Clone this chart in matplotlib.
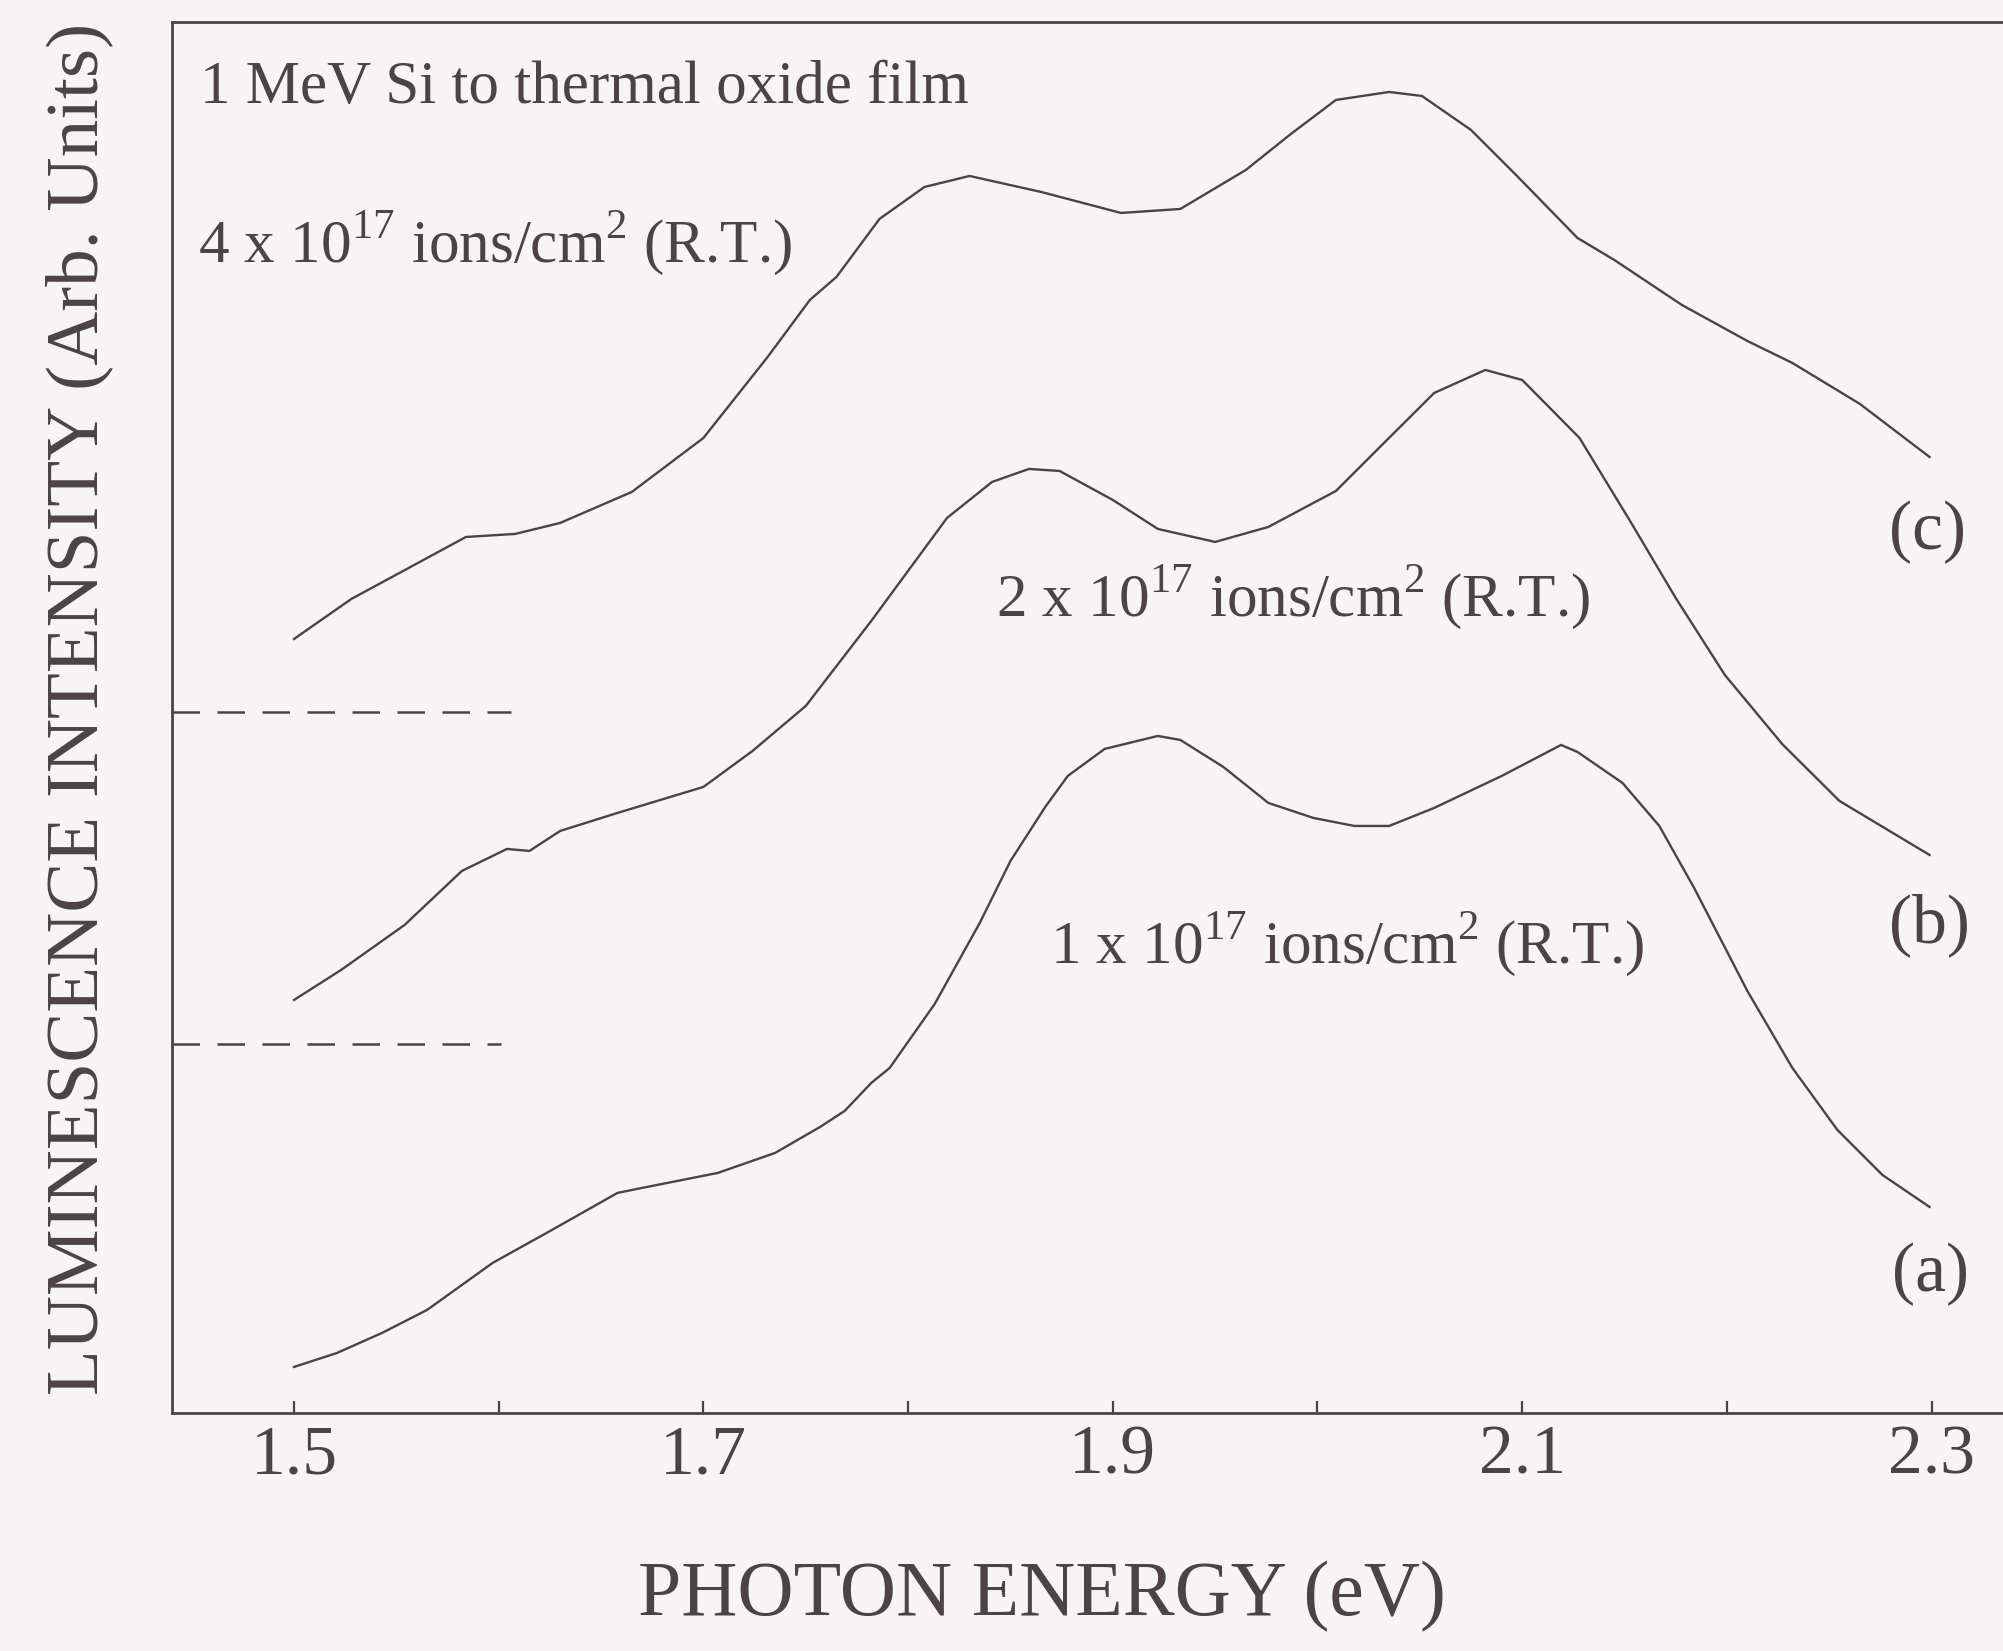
import numpy as np
import matplotlib.pyplot as plt

# photoluminescence spectra, 1 MeV Si implanted thermal oxide (arb. units)
energy_a = [1.500, 1.521, 1.543, 1.565, 1.597, 1.626, 1.658, 1.670, 1.707, 1.735,
            1.757, 1.769, 1.782, 1.791, 1.813, 1.835, 1.850, 1.867, 1.878, 1.896,
            1.922, 1.933, 1.954, 1.976, 1.998, 2.018, 2.035, 2.057, 2.090, 2.119,
            2.127, 2.149, 2.167, 2.184, 2.210, 2.232, 2.254, 2.276, 2.299]
lum_a = [0.46, 0.60, 0.80, 1.03, 1.50, 1.83, 2.20, 2.25, 2.40, 2.60,
         2.86, 3.02, 3.30, 3.45, 4.09, 4.90, 5.52, 6.06, 6.37, 6.64,
         6.77, 6.73, 6.46, 6.10, 5.95, 5.87, 5.87, 6.05, 6.37, 6.68,
         6.61, 6.30, 5.87, 5.25, 4.22, 3.45, 2.83, 2.38, 2.06]

energy_b = [1.500, 1.523, 1.554, 1.582, 1.604, 1.615, 1.630, 1.658, 1.700, 1.724,
            1.750, 1.782, 1.819, 1.841, 1.859, 1.874, 1.900, 1.922, 1.950, 1.976,
            2.009, 2.031, 2.057, 2.082, 2.100, 2.128, 2.153, 2.175, 2.199, 2.227,
            2.255, 2.299]
lum_b = [4.13, 4.43, 4.88, 5.42, 5.64, 5.62, 5.82, 6.00, 6.26, 6.62,
         7.07, 7.92, 8.95, 9.31, 9.44, 9.42, 9.13, 8.84, 8.71, 8.86,
         9.22, 9.67, 10.20, 10.43, 10.33, 9.75, 8.91, 8.15, 7.38, 6.69,
         6.12, 5.58]

energy_c = [1.500, 1.528, 1.556, 1.584, 1.608, 1.630, 1.665, 1.700, 1.731, 1.752,
            1.765, 1.786, 1.808, 1.830, 1.865, 1.904, 1.933, 1.965, 1.987, 2.009,
            2.035, 2.051, 2.075, 2.097, 2.127, 2.145, 2.178, 2.210, 2.232, 2.265,
            2.299]
lum_c = [7.74, 8.14, 8.45, 8.76, 8.79, 8.90, 9.21, 9.75, 10.55, 11.13,
         11.36, 11.94, 12.26, 12.37, 12.21, 12.00, 12.04, 12.43, 12.79, 13.13,
         13.21, 13.17, 12.83, 12.38, 11.75, 11.53, 11.08, 10.72, 10.50, 10.09,
         9.56]

# baselines of the shifted spectra
baseline_b = 7.01
baseline_a = 3.69

ink = "#4d4246"
paper = "#f6f4f5"

plt.rcParams["font.family"] = ["Liberation Serif", "DejaVu Serif"]
plt.rcParams["mathtext.fontset"] = "custom"
plt.rcParams["mathtext.rm"] = "Liberation Serif"

fig = plt.figure(figsize=(20.03, 16.51), dpi=100, facecolor=paper)
ax = fig.add_axes([0.0859, 0.1442, 0.9141, 0.8425], facecolor=paper)

for e, l in [(energy_a, lum_a), (energy_b, lum_b), (energy_c, lum_c)]:
    ax.plot(e, l, color=ink, lw=1.7, solid_joinstyle="round")

ax.plot([1.4404, 1.606], [baseline_b, baseline_b], color=ink, lw=1.8, dashes=(11, 7))
ax.plot([1.4404, 1.601], [baseline_a, baseline_a], color=ink, lw=1.8, dashes=(11, 7))

ax.set_xlim(1.4404, 2.3349)
ax.set_ylim(0, 13.91)

ax.set_xticks([1.5, 1.7, 1.9, 2.1, 2.3])
ax.set_xticklabels(["1.5", "1.7", "1.9", "2.1", "2.3"])
ax.set_xticks([1.6, 1.8, 2.0, 2.2], minor=True)
ax.tick_params(axis="x", which="both", direction="in", length=9, width=1.6,
               colors=ink, labelsize=50, pad=9)
ax.set_yticks([])

for side in ["left", "bottom", "top"]:
    ax.spines[side].set_color(ink)
    ax.spines[side].set_linewidth(2.0)
ax.spines["right"].set_visible(False)

ax.set_xlabel("PHOTON ENERGY (eV)", fontsize=56, color=ink)
ax.xaxis.set_label_coords(0.475, -0.132)
ax.xaxis.label.set_va("center")
ax.set_ylabel("LUMINESCENCE INTENSITY (Arb. Units)", fontsize=54, color=ink)
ax.yaxis.set_label_coords(-0.0508, 0.506)
ax.yaxis.label.set_va("center")

note = dict(fontsize=44, color=ink, va="center", ha="left")
ax.text(1.4541, 13.25, "1 MeV Si to thermal oxide film", **note)
ax.text(1.4531, 11.70, r"4 x 10$^{\mathrm{17}}$ ions/cm$^{\mathrm{2}}$ (R.T.)", **note)
ax.text(1.8430, 8.16, r"2 x 10$^{\mathrm{17}}$ ions/cm$^{\mathrm{2}}$ (R.T.)", **note)
ax.text(1.8693, 4.69, r"1 x 10$^{\mathrm{17}}$ ions/cm$^{\mathrm{2}}$ (R.T.)", **note)

tag = dict(fontsize=50, color=ink, va="center", ha="center")
ax.text(2.2982, 8.81, "(c)", **tag)
ax.text(2.2992, 4.88, "(b)", **tag)
ax.text(2.2997, 1.39, "(a)", **tag)

fig.savefig("out.png", dpi=100, facecolor=paper)
